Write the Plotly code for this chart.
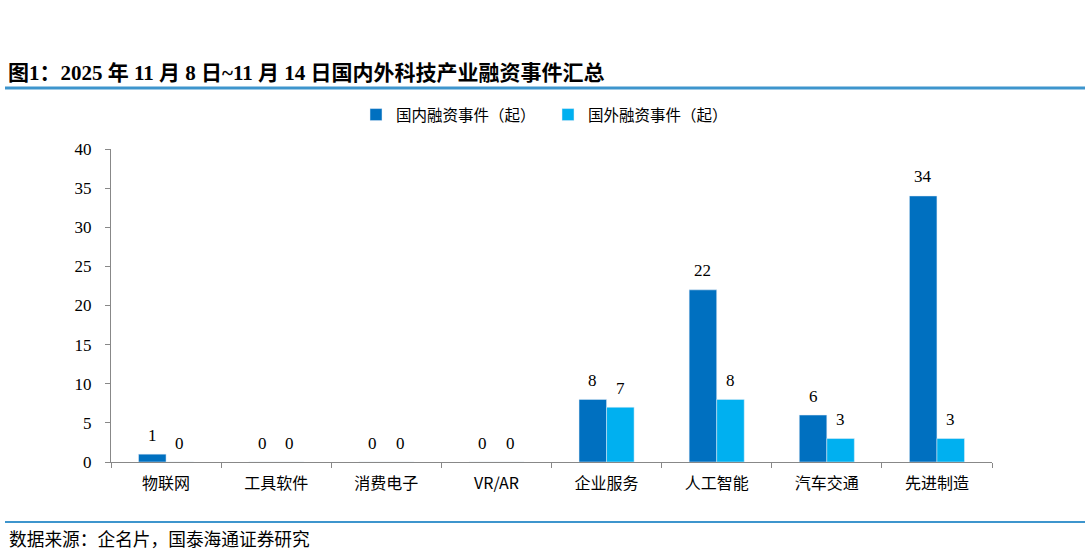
import plotly.graph_objects as go

categories = ["物联网", "工具软件", "消费电子", "VR/AR", "企业服务", "人工智能", "汽车交通", "先进制造"]
domestic = [1, 0, 0, 0, 8, 22, 6, 34]
foreign = [0, 0, 0, 0, 7, 8, 3, 3]
series_names = ["国内融资事件（起）", "国外融资事件（起）"]

W, H = 1089, 552
L, R, T, B = 111, 992, 149, 462

def px(x):
    return (x - L) / (R - L)

def py(y):
    return (B - y) / (B - T)

FONT = "Liberation Serif, Times New Roman, Noto Sans CJK SC, serif"
CJK = "Noto Sans CJK SC"

fig = go.Figure()
fig.add_trace(go.Bar(x=categories, y=domestic, name=series_names[0],
                     marker_color="#0070C0", cliponaxis=False))
fig.add_trace(go.Bar(x=categories, y=foreign, name=series_names[1],
                     marker_color="#00B0F0", cliponaxis=False))

ann = []
for c, v in zip(categories, domestic):
    ann.append(dict(x=c, y=v, text=str(v), xref="x", yref="y", showarrow=False,
                    xshift=-13.75, yshift=19, yanchor="middle",
                    font=dict(size=17, family=FONT, color="#000")))
for c, v in zip(categories, foreign):
    ann.append(dict(x=c, y=v, text=str(v), xref="x", yref="y", showarrow=False,
                    xshift=13.75, yshift=19, yanchor="middle",
                    font=dict(size=17, family=FONT, color="#000")))

ann += [
    dict(text="<b>图1：2025 年 11 月 8 日~11 月 14 日国内外科技产业融资事件汇总</b>",
         xref="paper", yref="paper", x=px(6), y=py(73), xanchor="left", yanchor="middle",
         showarrow=False, font=dict(size=21, family=FONT, color="#000")),
    dict(text="数据来源：企名片，国泰海通证券研究",
         xref="paper", yref="paper", x=px(7), y=py(538), xanchor="left", yanchor="middle",
         showarrow=False, font=dict(size=17.7, family=CJK, color="#000")),
]

fig.update_layout(
    width=W, height=H,
    margin=dict(l=L, r=W - R, t=T, b=H - B, pad=0),
    paper_bgcolor="white", plot_bgcolor="white",
    barmode="group", bargap=0.5, bargroupgap=0,
    font=dict(family=FONT, color="#000"),
    showlegend=True,
    legend=dict(orientation="h", x=px(356), xanchor="left", y=py(115), yanchor="middle",
                font=dict(size=15.5, family=CJK, color="#000"), itemwidth=30,
                entrywidth=147, traceorder="normal"),
    xaxis=dict(showline=True, linecolor="#888", linewidth=1, ticks="outside",
               tickson="boundaries", ticklen=5, tickcolor="#888", ticklabelstandoff=7,
               tickfont=dict(size=16, family=CJK, color="#000"), showgrid=False),
    yaxis=dict(range=[0, 40], dtick=5, showline=True, linecolor="#888", linewidth=1,
               ticks="outside", ticklen=5, tickcolor="#888", showgrid=False,
               ticklabelstandoff=10, zeroline=False,
               tickfont=dict(size=17, family=FONT, color="#000")),
    shapes=[
        dict(type="line", xref="paper", yref="paper", x0=px(5), x1=px(1085), y0=py(88), y1=py(88),
             line=dict(color="#3E95CD", width=3)),
        dict(type="line", xref="paper", yref="paper", x0=px(5), x1=px(1085), y0=py(522), y1=py(522),
             line=dict(color="#3E95CD", width=2)),
    ],
    annotations=ann,
)

fig.write_html("out.html", config={"displayModeBar": False},
               post_script="document.body.style.margin='0';document.body.style.overflow='hidden';")
